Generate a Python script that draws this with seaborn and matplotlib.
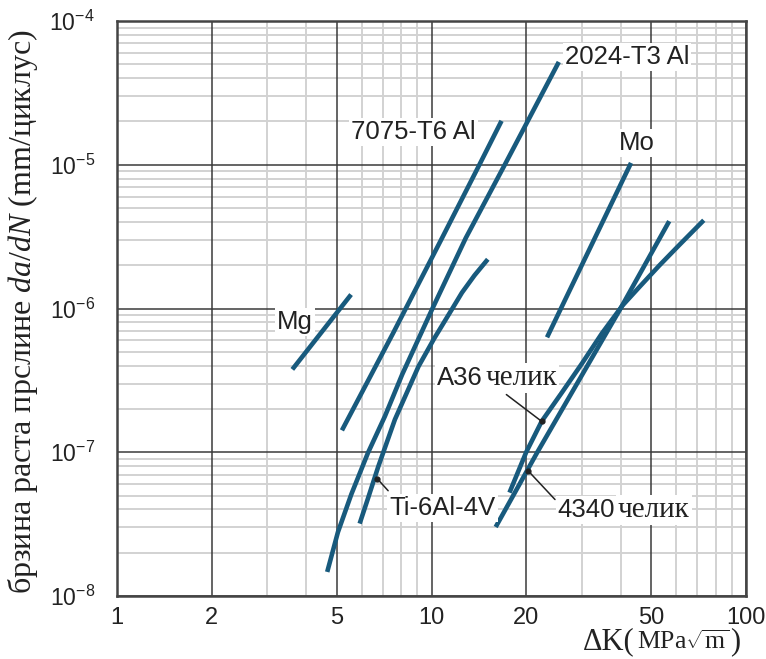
import numpy as np
import pandas as pd
import matplotlib
matplotlib.use("Agg")
import matplotlib.pyplot as plt
from matplotlib.ticker import FixedLocator, FixedFormatter, NullFormatter
import seaborn as sns

# ---------------- data ----------------
mg_dk = [3.61, 5.55]
mg_rate = [3.77e-7, 1.25e-6]

al7075_dk = [5.19, 7.55, 10.8, 14.2, 16.7]
al7075_rate = [1.42e-7, 6.74e-7, 3.09e-6, 1.0e-5, 2.02e-5]

al2024_dk = [4.66, 5.04, 5.56, 6.28, 7.11, 8.07, 10.07, 12.85, 17.1, 25.4]
al2024_rate = [1.47e-8, 2.78e-8, 5.1e-8, 9.9e-8, 1.78e-7, 3.48e-7, 1.0e-6, 3.09e-6, 1.0e-5, 5.19e-5]

ti_dk = [5.91, 6.29, 6.77, 7.65, 9.09, 10.2, 11.6, 12.5, 13.7, 15.1]
ti_rate = [3.19e-8, 4.82e-8, 7.93e-8, 1.69e-7, 3.95e-7, 6.19e-7, 9.84e-7, 1.29e-6, 1.70e-6, 2.2e-6]

mo_dk = [23.3, 43.1]
mo_rate = [6.3e-7, 1.03e-5]

a36_dk = [17.7, 20.0, 22.4, 26.0, 30.1, 34.8, 40.5, 45.8, 53.0, 61.5, 73.4]
a36_rate = [5.24e-8, 1.0e-7, 1.64e-7, 2.61e-7, 4.15e-7, 6.70e-7, 1.05e-6, 1.41e-6, 1.99e-6, 2.78e-6, 4.11e-6]

s4340_dk = [16.0, 21.7, 39.9, 57.0]
s4340_rate = [3.02e-8, 1.0e-7, 1.0e-6, 4.05e-6]

x_major = [1, 2, 5, 10, 20, 50, 100]
x_major_labels = ["1", "2", "5", "10", "20", "50", "100"]
x_minor = [3, 4, 6, 7, 8, 9, 30, 40, 60, 70, 80, 90]
y_major = [1e-8, 1e-7, 1e-6, 1e-5, 1e-4]
y_major_labels = [r"$\mathregular{10^{-8}}$", r"$\mathregular{10^{-7}}$", r"$\mathregular{10^{-6}}$",
                  r"$\mathregular{10^{-5}}$", r"$\mathregular{10^{-4}}$"]
y_minor = [m * 10.0 ** e for e in range(-8, -4) for m in range(2, 10)]

series = {
    "Mg": (mg_dk, mg_rate),
    "7075-T6 Al": (al7075_dk, al7075_rate),
    "2024-T3 Al": (al2024_dk, al2024_rate),
    "Ti-6Al-4V": (ti_dk, ti_rate),
    "Mo": (mo_dk, mo_rate),
    "A36": (a36_dk, a36_rate),
    "4340": (s4340_dk, s4340_rate),
}
rows = []
for name, (xs, ys) in series.items():
    for xv, yv in zip(xs, ys):
        rows.append({"material": name, "dk": xv, "rate": yv})
df = pd.DataFrame(rows)

# ---------------- style ----------------
sns.set_theme(style="white")
plt.rcParams["font.family"] = ["Liberation Sans", "DejaVu Sans"]
plt.rcParams["mathtext.fontset"] = "custom"
plt.rcParams["mathtext.rm"] = "Liberation Serif"
plt.rcParams["mathtext.it"] = "Liberation Serif:italic"

LINE = "#185a7d"
TXT = "#222222"

fig = plt.figure(figsize=(7.66, 6.59), dpi=100)
ax = fig.add_axes([117 / 766, 63 / 659, 629 / 766, 575 / 659])

ax.set_xscale("log")
ax.set_yscale("log")
ax.set_xlim(1, 100)
ax.set_ylim(1e-8, 1e-4)

palette = {name: LINE for name in series}
sns.lineplot(data=df, x="dk", y="rate", hue="material", units="material",
             estimator=None, sort=False, palette=palette, legend=False,
             linewidth=3.3, ax=ax)
for ln in ax.get_lines():
    ln.set_solid_capstyle("butt")
    ln.set_solid_joinstyle("round")
    ln.set_zorder(3)

# ticks / grid
ax.xaxis.set_major_locator(FixedLocator(x_major))
ax.xaxis.set_major_formatter(FixedFormatter(x_major_labels))
ax.xaxis.set_minor_locator(FixedLocator(x_minor))
ax.xaxis.set_minor_formatter(NullFormatter())
ax.yaxis.set_major_locator(FixedLocator(y_major))
ax.yaxis.set_major_formatter(FixedFormatter(y_major_labels))
ax.yaxis.set_minor_locator(FixedLocator(y_minor))
ax.yaxis.set_minor_formatter(NullFormatter())

ax.set_axisbelow(True)
ax.grid(which="minor", color="#d2d2d2", linewidth=1.4)
ax.grid(which="major", visible=False)
for xv in x_major:
    ax.axvline(xv, color="#3a3a3a", linewidth=1.1, zorder=1.5)
for yv in y_major:
    ax.axhline(yv, color="#3a3a3a", linewidth=1.1, zorder=1.5)

ax.tick_params(which="both", length=0)
ax.tick_params(axis="x", pad=8, labelsize=17, colors=TXT)
ax.tick_params(axis="y", pad=16, labelsize=16.5, colors=TXT)
for s in ax.spines.values():
    s.set_color("#444444")
    s.set_linewidth(1.8)
    s.set_zorder(6)

ax.set_xlabel("")
ax.set_ylabel("брзина раста прслине $\\mathit{da/dN}$ (mm/циклус)",
              family="Liberation Serif", fontsize=23, color=TXT)
ax.yaxis.set_label_coords(-0.122, 0.494)

# x label (figure coords), pieces chained one after another
xl1 = fig.text(583 / 766, 10 / 659, "ΔK(", family="Liberation Serif", fontsize=22,
               ha="left", va="baseline", color=TXT)
xl2 = fig.text(0, 0, r"MPa$\sqrt{\mathrm{m}}$", family="Liberation Serif", fontsize=18.5,
               ha="left", va="baseline", color=TXT)
fig.canvas.draw()
r = fig.canvas.get_renderer()
bb1 = xl1.get_window_extent(r)
xl2.set_position(((bb1.x1 + 2) / fig.bbox.width, 10 / 659))
fig.canvas.draw()
bb2 = xl2.get_window_extent(r)
fig.text((bb2.x1 + 1) / fig.bbox.width, 10 / 659, ")", family="Liberation Serif", fontsize=22,
         ha="left", va="baseline", color=TXT)

# material labels
box = dict(facecolor="white", edgecolor="none", pad=1.5)
lab_kw = dict(fontsize=18.5, color=TXT, va="center", ha="left", zorder=4, bbox=box)
ax.text(26.5, 5.6e-5, "2024-T3 Al", **lab_kw)
ax.text(5.55, 1.69e-5, "7075-T6 Al", **lab_kw)
ax.text(39.4, 1.42e-5, "Mo", **lab_kw)
ax.text(3.23, 8.1e-7, "Mg", **lab_kw)
ax.text(7.35, 4.09e-8, "Ti-6Al-4V", **lab_kw)

t1 = ax.text(10.4, 3.28e-7, "A36", **lab_kw)
t2 = ax.text(25.2, 3.97e-8, "4340", **lab_kw)
for t in (t1, t2):
    ax.annotate("челик", xy=(1, 0.5), xycoords=t, xytext=(2, 0), textcoords="offset points",
                family="Liberation Serif", fontsize=21, color=TXT, va="center", ha="left",
                zorder=4, bbox=box)

# pointer lines
pointers = [((17.3, 2.52e-7), (22.4, 1.64e-7)),
            ((24.7, 4.69e-8), (20.3, 7.42e-8)),
            ((7.28, 5.4e-8), (6.73, 6.53e-8))]
for (x0, y0), (x1, y1) in pointers:
    ax.plot([x0, x1], [y0, y1], color="#222222", lw=1.1, zorder=5)
    ax.plot([x1], [y1], marker="o", ms=3.5, color="#222222", zorder=5)

fig.savefig("out.png", dpi=100)
